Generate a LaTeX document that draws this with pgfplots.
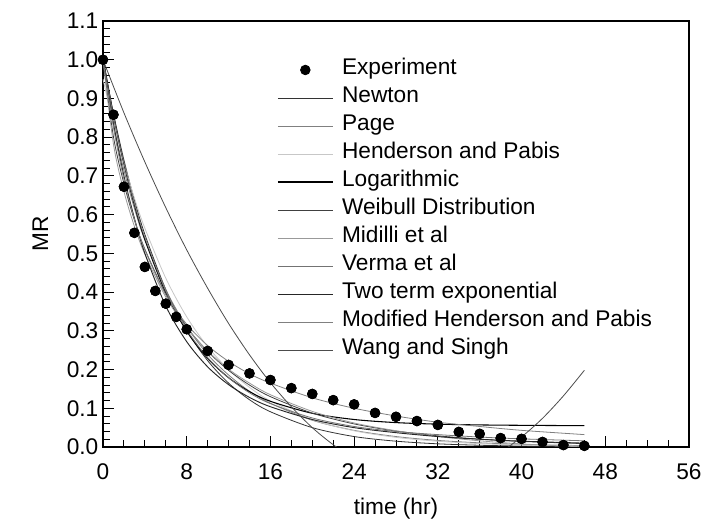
\documentclass[border=0pt]{standalone}
\usepackage{fontspec}
\setmainfont{Liberation Sans}
\usepackage{pgfplots}
\pgfplotsset{compat=1.18}
\usepackage{pgfplotstable}

% measured drying data
\pgfplotstableread{
t    mr
0    1.000
1    0.858
2    0.672
3    0.553
4    0.465
5    0.403
6    0.370
7    0.336
8    0.304
10   0.248
12   0.212
14   0.190
16   0.173
18   0.152
20   0.137
22   0.121
24   0.110
26   0.088
28   0.078
30   0.067
32   0.057
34   0.039
36   0.034
38   0.023
40   0.021
42   0.013
44   0.005
46   0.003
}\exper

\begin{document}
\begin{tikzpicture}
\useasboundingbox (-77.25pt,-58.5pt) rectangle (450.75pt,335.25pt);
\begin{axis}[
    scale only axis,
    width=439.5pt, height=319.5pt,
    xmin=0, xmax=56, ymin=0, ymax=1.1,
    xtick={0,8,...,56},
    ytick={0,0.1,...,1.1},
    minor x tick num=3,
    minor y tick num=4,
    tick align=inside,
    xtick pos=bottom, ytick pos=left,
    major tick length=8pt, minor tick length=5pt,
    tick style={black, line width=0.7pt},
    axis line style={line width=1pt},
    font=\fontsize{17}{20}\selectfont,
    /pgf/number format/assume math mode=true,
    yticklabel style={/pgf/number format/.cd, fixed, fixed zerofill, precision=1},
    xticklabel style={yshift=-9pt},
    xlabel={time (hr)}, ylabel={MR},
    every axis x label/.style={at={(axis description cs:0.5,-0.144)}, anchor=center},
    every axis y label/.style={at={(axis description cs:-0.107,0.5)}, anchor=center, rotate=90},
    legend style={
        draw=none, fill=none, inner sep=0pt,
        at={(axis description cs:0.297,0.906)}, anchor=north west,
        font=\fontsize{17}{20}\selectfont,
        row sep=8pt,
        nodes={inner sep=0pt, text height=10pt, text depth=3pt},
        /tikz/every odd column/.append style={column sep=6.5pt},
    },
    legend cell align=left,
    legend image code/.code={\draw[mark repeat=2, mark phase=2, #1] plot coordinates {(0cm,0cm) (0.725cm,0cm) (1.45cm,0cm)};},
    every axis plot/.append style={smooth, line width=0.6pt},
]
\addplot[only marks, mark=*, mark size=3.6pt, black] table[x=t, y=mr] {\exper};
\addlegendentry{Experiment}

% Newton
\addplot[black!80] coordinates {(0,1) (1,0.861) (2,0.741) (3,0.638) (4,0.549) (6,0.407) (8,0.301) (10,0.223) (12,0.165) (14,0.122) (16,0.091) (20,0.050) (24,0.027) (28,0.015) (32,0.0082) (36,0.0045) (40,0.0025) (46,0.001)};
\addlegendentry{Newton}
% Page
\addplot[black!50] coordinates {(0,1) (1,0.835) (2,0.715) (3,0.616) (4,0.534) (6,0.406) (8,0.311) (10,0.239) (12,0.186) (14,0.144) (16,0.113) (20,0.069) (24,0.043) (28,0.027) (32,0.017) (36,0.0108) (40,0.0069) (46,0.0035)};
\addlegendentry{Page}
% Henderson and Pabis
\addplot[black!22] coordinates {(0,0.95) (1,0.834) (2,0.733) (3,0.643) (4,0.565) (6,0.436) (8,0.336) (10,0.259) (12,0.200) (14,0.154) (16,0.119) (20,0.0705) (24,0.0419) (28,0.0249) (32,0.0148) (36,0.0088) (40,0.0052) (46,0.0024)};
\addlegendentry{Henderson and Pabis}
% Logarithmic
\addplot[black, line width=0.8pt] coordinates {(0,1.005) (1,0.856) (2,0.731) (3,0.625) (4,0.536) (6,0.398) (8,0.299) (10,0.229) (12,0.179) (14,0.143) (16,0.118) (20,0.087) (24,0.071) (28,0.063) (32,0.059) (36,0.057) (40,0.056) (46,0.055)};
\addlegendentry{Logarithmic}
% Weibull
\addplot[black!75] coordinates {(0,1) (1,0.801) (2,0.680) (3,0.586) (4,0.511) (6,0.395) (8,0.310) (10,0.247) (12,0.198) (14,0.160) (16,0.130) (20,0.0875) (24,0.0596) (28,0.0412) (32,0.0288) (36,0.0203) (40,0.0144) (46,0.0087)};
\addlegendentry{Weibull Distribution}
% Midilli et al
\addplot[black!40] coordinates {(0,1) (1,0.782) (2,0.660) (3,0.570) (4,0.498) (6,0.387) (8,0.308) (10,0.248) (12,0.201) (14,0.165) (16,0.135) (20,0.092) (24,0.062) (28,0.042) (32,0.027) (36,0.016) (40,0.008) (46,0.0)};
\addlegendentry{Midilli et al}
% Verma et al
\addplot[black!55] coordinates {(0,1) (1,0.855) (2,0.733) (3,0.629) (4,0.541) (6,0.403) (8,0.303) (10,0.231) (12,0.179) (14,0.140) (16,0.112) (20,0.075) (24,0.053) (28,0.040) (32,0.032) (36,0.0257) (40,0.021) (46,0.016)};
\addlegendentry{Verma et al}
% Two term exponential
\addplot[black!85, line width=0.7pt] coordinates {(0,1) (1,0.835) (2,0.700) (3,0.591) (4,0.500) (6,0.364) (8,0.272) (10,0.207) (12,0.161) (14,0.128) (16,0.104) (20,0.071) (24,0.050) (28,0.037) (32,0.027) (36,0.020) (40,0.015) (46,0.010)};
\addlegendentry{Two term exponential}
% Modified Henderson and Pabis
\addplot[black!50] coordinates {(0,1) (1,0.825) (2,0.691) (3,0.588) (4,0.509) (6,0.393) (8,0.317) (10,0.262) (12,0.221) (14,0.189) (16,0.165) (20,0.127) (24,0.100) (28,0.080) (32,0.064) (36,0.053) (40,0.043) (46,0.032)};
\addlegendentry{Modified Henderson and Pabis}
% Wang and Singh
\addplot[black!70] coordinates {(0,1) (2,0.863) (4,0.736) (6,0.618) (8,0.509) (10,0.410) (12,0.319) (14,0.238) (16,0.166) (18,0.104) (20,0.050) (22,0.006) (24,-0.029) (26,-0.054) (28,-0.071) (30,-0.078) (32,-0.076) (34,-0.064) (36,-0.044) (38,-0.0135) (40,0.026) (42,0.074) (44,0.132) (46,0.198)};
\addlegendentry{Wang and Singh}

% markers again on top of the curves
\addplot[only marks, mark=*, mark size=3.6pt, black, forget plot] table[x=t, y=mr] {\exper};
\end{axis}
\end{tikzpicture}
\end{document}
